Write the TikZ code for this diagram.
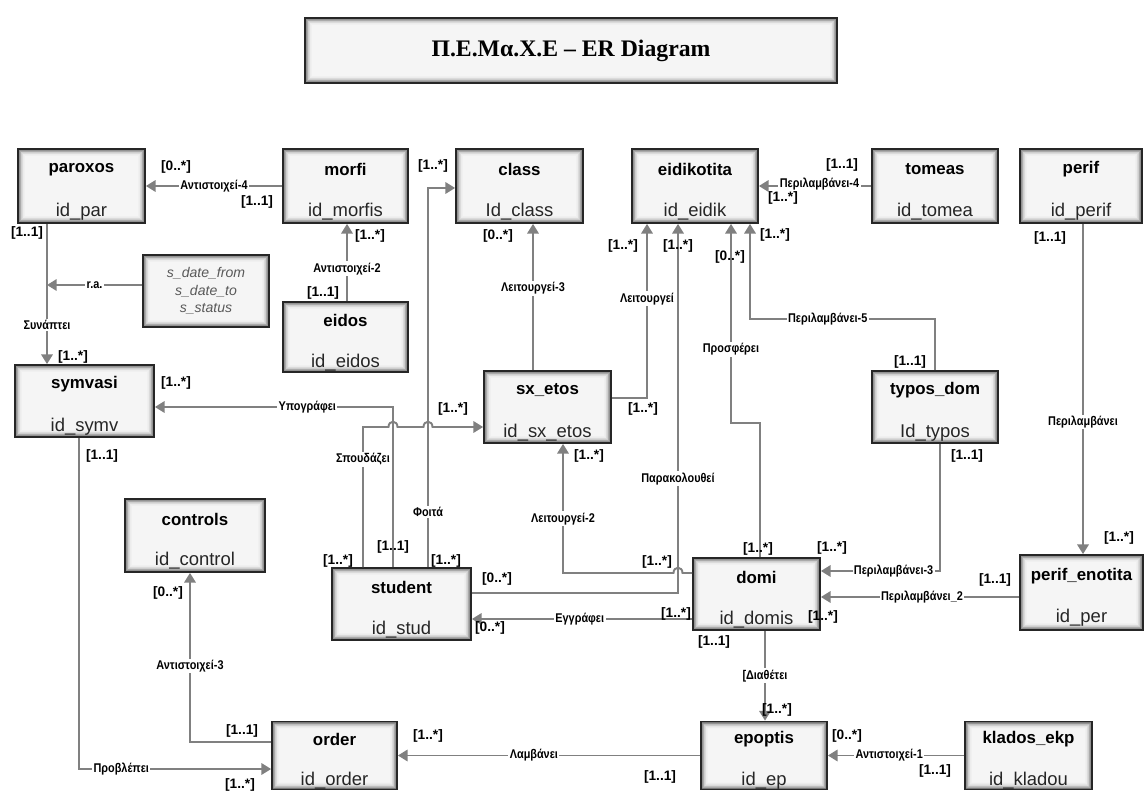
\documentclass[tikz,border=0pt]{standalone}
\usepackage{fontspec}
\setmainfont{Liberation Sans}
\newfontfamily\titlefont{Liberation Serif}
\newfontfamily\relfont[FakeStretch=0.86]{Liberation Sans}
\usetikzlibrary{arrows.meta,calc,positioning}

\tikzset{
  glow/.style={path picture={
    \foreach \i in {0,...,12}{
      \pgfmathsetmacro{\tone}{4+62*(1-\i/12)^2.6}
      \fill[black!\tone] ([shift={(\i*0.38pt,\i*0.38pt)}]path picture bounding box.south west)
        rectangle ([shift={(-\i*0.38pt,-\i*0.38pt)}]path picture bounding box.north east);
    }}},
  entity/.style={rectangle, draw=black!85, line width=1pt, glow, inner sep=0pt,
    minimum width=2.52cm, minimum height=1.44cm, align=center},
  etitle/.style={anchor=base, yshift=0.33cm, inner sep=0pt, font=\fontsize{9.6}{11}\selectfont\bfseries},
  ekey/.style={anchor=base, yshift=-0.51cm, inner sep=0pt, text=black!85, font=\fontsize{10.5}{12}\selectfont},
  ent/.style 2 args={entity, label={[etitle]center:#1}, label={[ekey]center:#2}},
  rel/.style={draw=black!50, line width=1.1pt, -{Triangle[length=5.5pt,width=6.5pt]}},
  lbl/.style={fill=white, inner sep=0.8pt, font=\relfont\bfseries\fontsize{7.2}{8}\selectfont},
  card/.style={inner sep=0pt, font=\bfseries\fontsize{7.8}{9}\selectfont}
}

\begin{document}
\begin{tikzpicture}[x=0.2mm, y=-0.2mm]
\useasboundingbox (0,0) rectangle (1145,791);

% title
\node[entity, minimum width=10.64cm, minimum height=1.3cm,
  font=\titlefont\bfseries\fontsize{13.5}{16}\selectfont] (title) at (571,50.5) {Π.Ε.Μα.Χ.Ε – ER Diagram};

% entities
\node[ent={paroxos}{id\_par}, minimum width=2.54cm, minimum height=1.48cm] (paroxos) at (81.5,186) {};
\node[ent={morfi}{id\_morfis}, minimum width=2.5cm, minimum height=1.48cm] (morfi) at (345.5,186) {};
\node[ent={class}{Id\_class}, minimum width=2.54cm, minimum height=1.48cm] (class) at (519.5,186) {};
\node[ent={eidikotita}{id\_eidik}, minimum height=1.48cm] (eidikotita) at (695,186) {};
\node[ent={tomeas}{id\_tomea}, minimum height=1.48cm] (tomeas) at (935,186) {};
\node[ent={perif}{id\_perif}, minimum width=2.44cm, minimum height=1.48cm] (perif) at (1081,186) {};
\node[entity, font=\itshape\fontsize{8}{10}\selectfont, text=black!65] (attr) at (206,291) {s\_date\_from\\s\_date\_to\\s\_status};
\node[ent={eidos}{id\_eidos}, minimum width=2.5cm, minimum height=1.4cm] (eidos) at (345.5,337) {};
\node[ent={symvasi}{id\_symv}, minimum width=2.78cm] (symvasi) at (84.5,401) {};
\node[ent={sx\_etos}{id\_sx\_etos}, minimum width=2.54cm] (sx_etos) at (547.5,407) {};
\node[ent={typos\_dom}{Id\_typos}] (typos_dom) at (935,407) {};
\node[ent={controls}{id\_control}, minimum width=2.8cm, minimum height=1.46cm] (controls) at (195,535.5) {};
\node[ent={student}{id\_stud}, minimum width=2.78cm] (student) at (401.5,604) {};
\node[ent={domi}{id\_domis}, minimum width=2.54cm] (domi) at (756.5,594) {};
\node[ent={perif\_enotita}{id\_per}, minimum width=2.46cm, minimum height=1.5cm] (perif_enotita) at (1081.5,592.5) {};
\node[ent={order}{id\_order}, minimum width=2.5cm, minimum height=1.36cm] (order) at (334.5,755.5) {};
\node[ent={epoptis}{id\_ep}, minimum height=1.36cm] (epoptis) at (764,755.5) {};
\node[ent={klados\_ekp}{id\_kladou}, minimum width=2.54cm, minimum height=1.36cm] (klados_ekp) at (1028.5,755.5) {};

% relationships
\draw[rel] (morfi.west) -- node[lbl] (l-ant4) {Αντιστοιχεί-4} (paroxos.east);
\draw[rel] (paroxos.south -| 47,0) -- node[lbl,pos=0.72] (l-syn) {Συνάπτει} (symvasi.north -| 47,0);
\draw[rel] (attr.west |- 0,285) -- node[lbl] (l-ra) {r.a.} (47,285);
\draw[rel] (eidos.north -| 347,0) -- node[lbl,pos=0.42] (l-ant2) {Αντιστοιχεί-2} (morfi.south -| 347,0);
\draw[rel] (symvasi.south -| 79,0) -- (79,769) -- node[lbl,pos=0.22] (l-prov) {Προβλέπει} (order.west |- 0,769);
\draw[rel] (order.west |- 0,742) -- (190,742) -- node[lbl,pos=0.45] (l-ant3) {Αντιστοιχεί-3} (controls.south -| 190,0);
\draw[rel] (epoptis.west) -- node[lbl,pos=0.55] (l-lamv) {Λαμβάνει} (order.east);
\draw[rel] (klados_ekp.west) -- node[lbl,pos=0.55] (l-ant1) {Αντιστοιχεί-1} (epoptis.east);
\draw[rel] (domi.south -| 765,0) -- node[lbl] (l-diath) {[Διαθέτει} (epoptis.north -| 765,0);
\draw[rel] (domi.west |- 0,619) -- node[lbl,pos=0.51] (l-egg) {Εγγράφει} (student.east |- 0,619);
\draw[rel] (student.east |- 0,593) -- (678,593) -- node[lbl,pos=0.31] (l-para) {Παρακολουθεί} (eidikotita.south -| 678,0);
\draw[rel] (domi.west |- 0,573) -- (682.5,573) .. controls (682.5,566) and (673.5,566) .. (673.5,573)
  -- (563,573) -- node[lbl,pos=0.42] (l-lei2) {Λειτουργεί-2} (sx_etos.south -| 563,0);
\draw[rel] (sx_etos.east |- 0,398) -- (647,398) -- node[lbl,pos=0.57] (l-lei) {Λειτουργεί} (eidikotita.south -| 647,0);
\draw[rel] (sx_etos.north -| 533,0) -- node[lbl,pos=0.56] (l-lei3) {Λειτουργεί-3} (class.south -| 533,0);
\draw[rel] (domi.north -| 760,0) -- (760,423) -- (731,423) -- node[lbl,pos=0.37] (l-pros) {Προσφέρει} (eidikotita.south -| 731,0);
\draw[rel] (typos_dom.north -| 935,0) -- (935,319) -- node[lbl,pos=0.58] (l-per5) {Περιλαμβάνει-5} (750,319) -- (eidikotita.south -| 750,0);
\draw[rel] (tomeas.west) -- node[lbl,pos=0.46,yshift=1pt] (l-per4) {Περιλαμβάνει-4} (eidikotita.east);
\draw[rel] (perif.south -| 1083,0) -- node[lbl,pos=0.6] (l-per) {Περιλαμβάνει} (perif_enotita.north -| 1083,0);
\draw[rel] (typos_dom.south -| 940,0) -- (940,571) -- node[lbl,pos=0.39] (l-per3) {Περιλαμβάνει-3} (domi.east |- 0,571);
\draw[rel] (perif_enotita.west |- 0,597) -- node[lbl,pos=0.49] (l-per2) {Περιλαμβάνει\_2} (domi.east |- 0,597);
\draw[rel] (student.north -| 393,0) -- (393,407) -- node[lbl,pos=0.36] (l-ypo) {Υπογράφει} (symvasi.east |- 0,407);
\draw[rel] (student.north -| 428,0) -- node[lbl,pos=0.145] (l-foita) {Φοιτά} (428,188) -- (class.west |- 0,188);
\draw[rel] (student.north -| 363,0) -- node[lbl,pos=0.77] (l-spou) {Σπουδάζει} (363,427)
  -- (388.5,427) .. controls (388.5,420) and (397.5,420) .. (397.5,427)
  -- (423.5,427) .. controls (423.5,420) and (432.5,420) .. (432.5,427) -- (sx_etos.west |- 0,427);

% cardinalities
\foreach \x/\y/\t [count=\k] in {176/167/{[0..*]}, 257/202/{[1..1]}, 27/233/{[1..1]}, 370/236/{[1..*]},
  323/293/{[1..1]}, 73/357/{[1..*]}, 176/383/{[1..*]}, 102/456/{[1..1]}, 433/166/{[1..*]},
  498/236/{[0..*]}, 623/246/{[1..*]}, 678/246/{[1..*]}, 730/257/{[0..*]}, 775/235/{[1..*]},
  842/165/{[1..1]}, 783/198/{[1..*]}, 1050/238/{[1..1]}, 453/409/{[1..*]}, 643/409/{[1..*]},
  589/456/{[1..*]}, 910/362/{[1..1]}, 967/456/{[1..1]}, 1119/538/{[1..*]}, 832/548/{[1..*]},
  758/549/{[1..*]}, 657/562/{[1..*]}, 995/580/{[1..1]}, 823/617/{[1..*]}, 676/614/{[1..*]},
  497/579/{[0..*]}, 490/628/{[0..*]}, 338/561/{[1..*]}, 393/547/{[1..1]}, 446/561/{[1..*]},
  714/642/{[1..1]}, 777/710/{[1..*]}, 168/593/{[0..*]}, 242/731/{[1..1]}, 240/785/{[1..*]},
  428/736/{[1..*]}, 660/777/{[1..1]}, 847/736/{[0..*]}, 935/771/{[1..1]}}
  \node[card] (card\k) at (\x,\y) {\t};
\end{tikzpicture}
\end{document}
